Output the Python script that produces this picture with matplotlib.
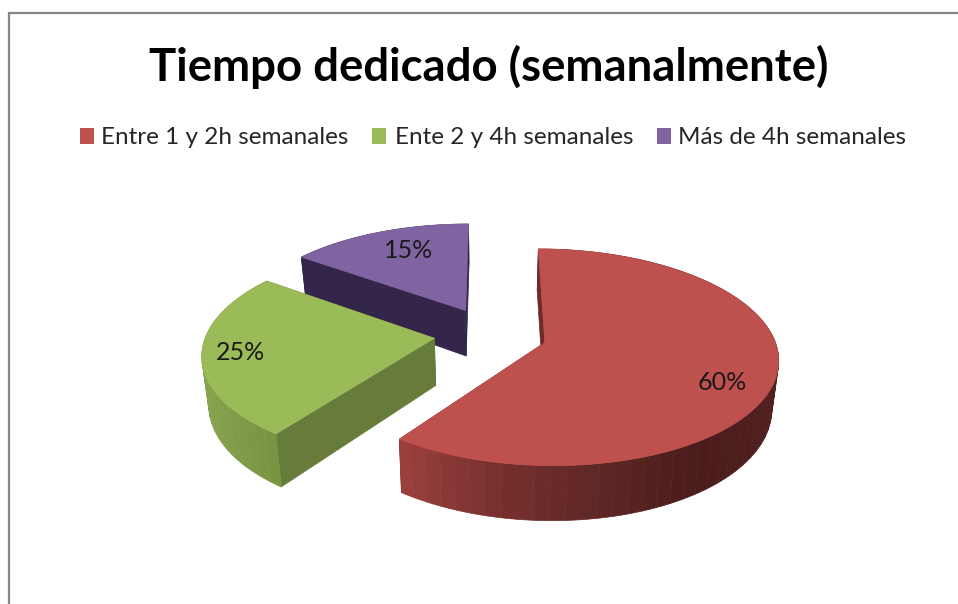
import numpy as np
import matplotlib
matplotlib.use("Agg")
import matplotlib.pyplot as plt
from matplotlib.colors import to_rgb
from matplotlib.patches import Polygon, Rectangle

title = "Tiempo dedicado (semanalmente)"
labels = ["Entre 1 y 2h semanales", "Ente 2 y 4h semanales", "Más de 4h semanales"]
values = [60, 25, 15]
colors = ["#BE504D", "#9BBB59", "#8064A2"]
cut_colors = ["#6E2A28", "#677C3A", "#33264A"]

# wall shading along screen x
wall_x = [[399, 500, 600, 700, 779], [200, 240, 280], [300, 470]]
wall_c = [["#9C403D", "#76302E", "#5E2725", "#4A1C1B", "#512120"],
          ["#88A44E", "#7F9A48", "#78933F"],
          ["#33264A", "#33264A"]]

legend_box_x = [80, 372, 657]
legend_text_x = [101, 395, 678]
pct_pos = [(722, 382), (241, 353), (409, 251)]

# camera fitted by eye to the picture
X0, Y0 = 490.5, 334
FX, FY, FZ = 228, 104, 47
PERSP = 0.135
SHRINK = 0.024
EXPLODE_X = 0.248
EXPLODE_Y = 0.262


def project(x, y, z=0.0):
    den = 1 + PERSP * y
    return X0 + FX * x * (1 - SHRINK * z) / den, Y0 - (FY * y - FZ * z) / den


def rim(a, off):
    return off[0] + np.sin(a), off[1] + np.cos(a)


def shade(x, stops_x, stops_c):
    rgb = np.array([to_rgb(c) for c in stops_c])
    return [np.interp(x, stops_x, rgb[:, i]) for i in range(3)]


plt.rcParams["font.family"] = ["Lato", "DejaVu Sans"]
fig = plt.figure(figsize=(9.58, 6.04), dpi=100)
ax = fig.add_axes([0, 0, 1, 1])
ax.set_xlim(0, 958)
ax.set_ylim(604, 0)
ax.axis("off")

ax.plot([9.5, 9.5, 958], [604, 13, 13], color="#868686", lw=1.6, solid_joinstyle="miter")

ax.text(489, 67, title, fontsize=32.8, fontweight="bold", color="black", ha="center", va="center")
for i, lab in enumerate(labels):
    ax.add_patch(Rectangle((legend_box_x[i], 128), 14, 16, fc=colors[i], ec="none"))
    ax.text(legend_text_x[i], 138, lab, fontsize=17.5, color="#262626", ha="left", va="center")

edges = np.cumsum([0] + values) / sum(values) * 2 * np.pi
# back slices first so the red one sits on top
for i in [2, 1, 0]:
    a0, a1 = edges[i], edges[i + 1]
    mid = (a0 + a1) / 2
    off = (EXPLODE_X * np.sin(mid), EXPLODE_Y * np.cos(mid))
    top_angles = np.linspace(a0, a1, 120)
    wall_angles = np.linspace(a0, a1, values[i] + 2)

    # flat cut faces
    for a in (a0, a1):
        rx, ry = rim(a, off)
        face = [project(off[0], off[1]), project(rx, ry),
                project(rx, ry, 1), project(off[0], off[1], 1)]
        ax.add_patch(Polygon(face, fc=cut_colors[i], ec=cut_colors[i], lw=0.5))

    # outer wall as thin strips
    for b0, b1 in zip(wall_angles[:-1], wall_angles[1:]):
        arc = np.linspace(b0, b1, 6)
        strip = [project(*rim(b, off)) for b in arc] + [project(*rim(b, off), 1) for b in arc[::-1]]
        col = shade((strip[0][0] + strip[5][0]) / 2, wall_x[i], wall_c[i])
        ax.add_patch(Polygon(strip, fc=col, ec=col, lw=0.5))

    top = [project(off[0], off[1])] + [project(*rim(a, off)) for a in top_angles]
    ax.add_patch(Polygon(top, fc=colors[i], ec=colors[i], lw=0.5))

for v, (px, py) in zip(values, pct_pos):
    ax.text(px, py, f"{v}%", fontsize=18, color="#1a1a1a", ha="center", va="center")

fig.savefig("out.png", dpi=100)
plt.close(fig)
